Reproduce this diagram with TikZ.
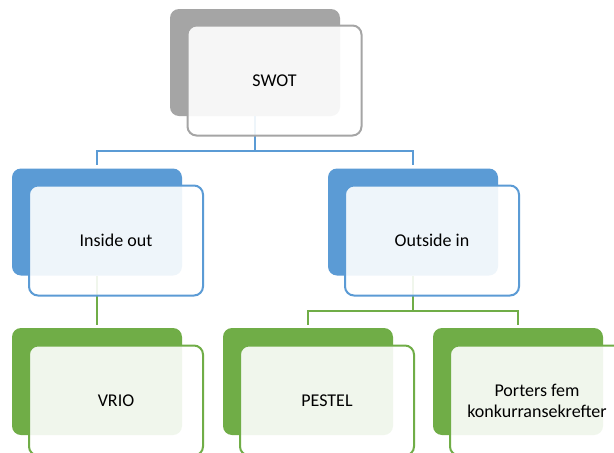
\documentclass[tikz,border=0pt]{standalone}
\usepackage{fontspec}
\setmainfont{Carlito}
\definecolor{swgray}{HTML}{A5A5A5}
\definecolor{swblue}{HTML}{5B9BD5}
\definecolor{swgreen}{HTML}{70AD47}
\begin{document}
\begin{tikzpicture}[x=1pt,y=-1pt,
  backbox/.style={minimum width=170pt, minimum height=107pt, rounded corners=9pt,
    inner sep=0pt, fill=#1},
  frontbox/.style={minimum width=174pt, minimum height=110pt, rounded corners=9pt,
    inner sep=0pt, draw=#1, line width=2pt, fill=white, fill opacity=0.9,
    text opacity=1, align=center, font=\fontsize{18}{21}\selectfont},
  link/.style={draw=#1, line width=2pt, shorten >=3pt}]
\useasboundingbox (0,0) rectangle (614,453);
\clip (0,0) rectangle (614,453);
\fill[white] (0,0) rectangle (614,453);

% back plates
\node[backbox=swgray]  (swotB) at (255,62.5) {};
\node[backbox=swblue]  (inB)   at (97,222) {};
\node[backbox=swblue]  (outB)  at (413,222) {};
\node[backbox=swgreen] (vrioB) at (97,381.5) {};
\node[backbox=swgreen] (pestB) at (308,381.5) {};
\node[backbox=swgreen] (portB) at (518,381.5) {};

% connectors
\coordinate (bus1) at (0,151);
\coordinate (bus2) at (0,311);
\draw[link=swblue] (swotB.south) -- (swotB.south |- bus1) -| (inB.north);
\draw[link=swblue] (swotB.south |- bus1) -| (outB.north);
\draw[link=swgreen] (inB.south) -- (vrioB.north);
\draw[link=swgreen] (outB.south) -- (outB.south |- bus2) -| (pestB.north);
\draw[link=swgreen] (outB.south |- bus2) -| (portB.north);

% front cards
\node[frontbox=swgray]  (swot) at (274.5,80.5) {SWOT};
\node[frontbox=swblue]  (in)   at (116,240.5) {Inside out};
\node[frontbox=swblue]  (out)  at (432,240.5) {Outside in};
\node[frontbox=swgreen] (vrio) at (116,400.5) {VRIO};
\node[frontbox=swgreen] (pest) at (327,400.5) {PESTEL};
\node[frontbox=swgreen] (port) at (537,400.5) {Porters fem\\konkurransekrefter};
\end{tikzpicture}
\end{document}
